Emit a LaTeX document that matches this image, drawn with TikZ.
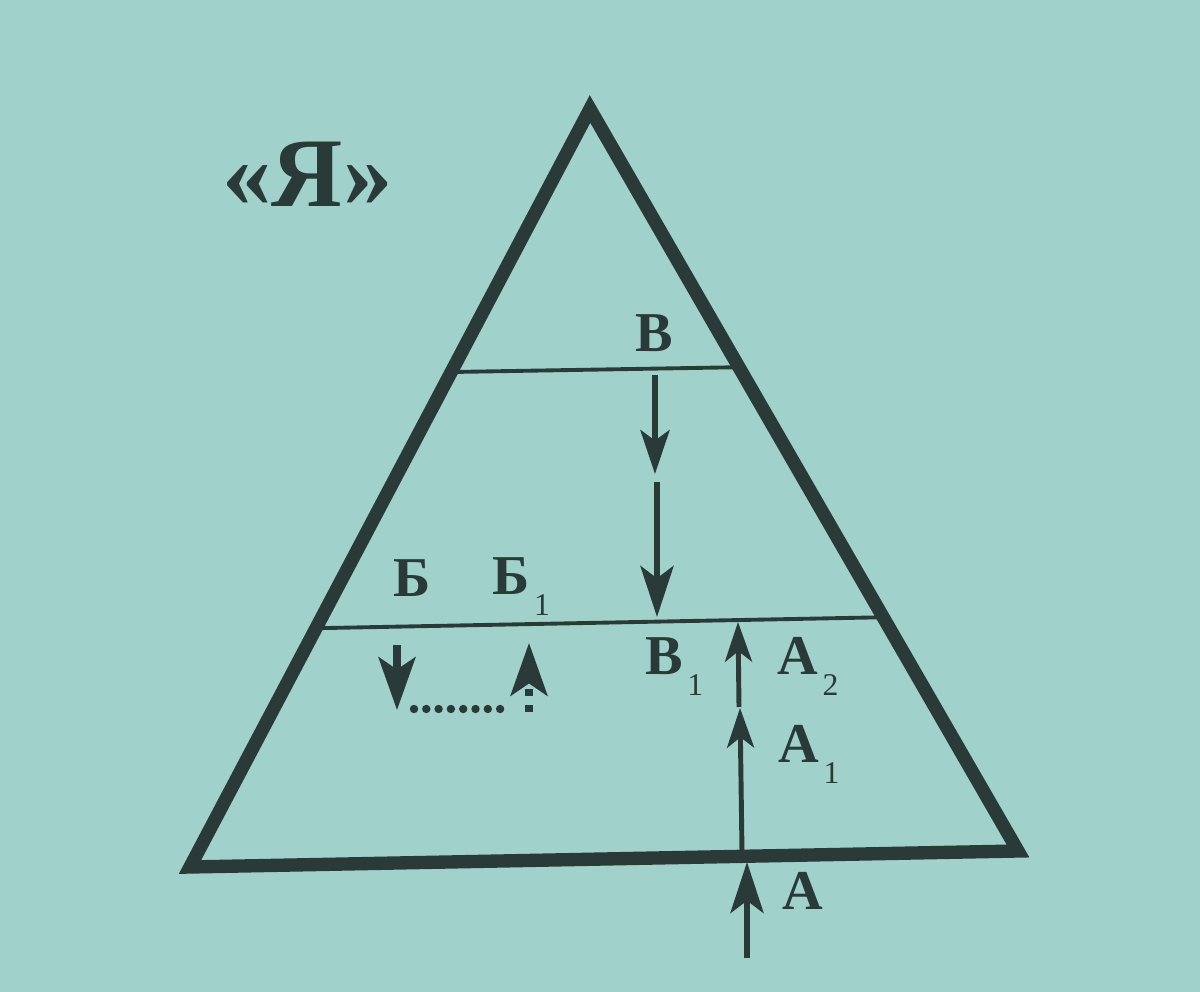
\documentclass[tikz,border=0pt]{standalone}
\usepackage{fontspec}
\setmainfont{Liberation Serif}
\usetikzlibrary{arrows.meta,calc}
\definecolor{papel}{RGB}{160,209,203}
\definecolor{tinta}{RGB}{42,58,56}
\newcommand{\idx}[1]{\hspace{1.2pt}\raisebox{-5.8pt}{\mdseries\fontsize{9}{9}\selectfont #1}}
\begin{document}
\begin{tikzpicture}[x=0.01cm,y=-0.01cm,
    letra/.style={font=\bfseries\fontsize{16}{16}\selectfont, text=tinta, inner sep=0pt, anchor=base west},
    nivel/.style={tinta, line width=1.1pt},
    flecha/.style={tinta, line width=1.5pt, -{Stealth[length=12.5pt,width=8.3pt,inset=3pt]}},
    flechac/.style={tinta, line width=1.4pt, -{Stealth[length=11.3pt,width=7.7pt,inset=3pt]}},
    flechag/.style={tinta, line width=1.7pt, -{Stealth[length=14.5pt,width=9.4pt,inset=3.5pt]}},
    flechab/.style={tinta, line width=2pt, -{Stealth[length=15pt,width=10.5pt,inset=3.5pt]}}]
    % Fondo
    \fill[papel] (0,0) rectangle (1200,992);
    \useasboundingbox (0,0) rectangle (1200,992);

    % Vértices del triángulo
    \coordinate (cima) at (590,109);
    \coordinate (izq) at (190,867);
    \coordinate (der) at (1018,851);

    % Niveles
    \coordinate (v1) at ($(cima)!0.347!(izq)$);
    \coordinate (v2) at ($(cima)!0.348!(der)$);
    \draw[nivel] (v1) -- (v2);
    \coordinate (m1) at ($(cima)!0.685!(izq)$);
    \coordinate (m2) at ($(cima)!0.685!(der)$);
    \draw[nivel] (m1) -- (m2);

    % Triángulo
    \draw[tinta, line width=3.8pt, line join=miter] (cima) -- (izq) -- (der) -- cycle;

    % Flechas desde B
    \coordinate (b0) at (655,375);
    \coordinate (b1) at (655,474);
    \coordinate (b2) at (657,482);
    \coordinate (b3) at (657,617);
    \draw[flecha] (b0) -- (b1);
    \draw[flechag] (b2) -- (b3);

    % Flechas desde A
    \coordinate (a0) at (747,958);
    \coordinate (a1) at (747,862);
    \coordinate (a2) at (742,852);
    \coordinate (a3) at (740,708);
    \coordinate (a4) at (739,707);
    \coordinate (a5) at (738,622);
    \draw[flechag] (a0) -- (a1);
    \draw[flechac] (a2) -- (a3);
    \draw[flechac] (a4) -- (a5);

    % Flechas de B y B1
    \coordinate (s0) at (397,645);
    \coordinate (s1) at (397,710);
    \coordinate (s2) at (529,712);
    \coordinate (s3) at (529,643);
    \draw[flechab] (s0) -- (s1);
    \draw[flechab, dash pattern=on 0.07cm off 0.09cm] (s2) -- (s3);
    \foreach \i in {0,...,7}
        \fill[tinta] (414+12.3*\i,709) circle[radius=4.2];

    % Letras
    \node[letra] (lve) at (635,352) {В};
    \node[letra] (lbe) at (393,597) {Б};
    \node[letra] (lbe1) at (492,595) {Б\idx{1}};
    \node[letra] (lve1) at (645,675) {В\idx{1}};
    \node[letra] (la2) at (777,675) {А\idx{2}};
    \node[letra] (la1) at (778,763) {А\idx{1}};
    \node[letra] (la) at (782,910) {А};
    \node[letra, font=\bfseries\fontsize{28}{28}\selectfont] (yo) at (222,207) {«Я»};
\end{tikzpicture}
\end{document}
